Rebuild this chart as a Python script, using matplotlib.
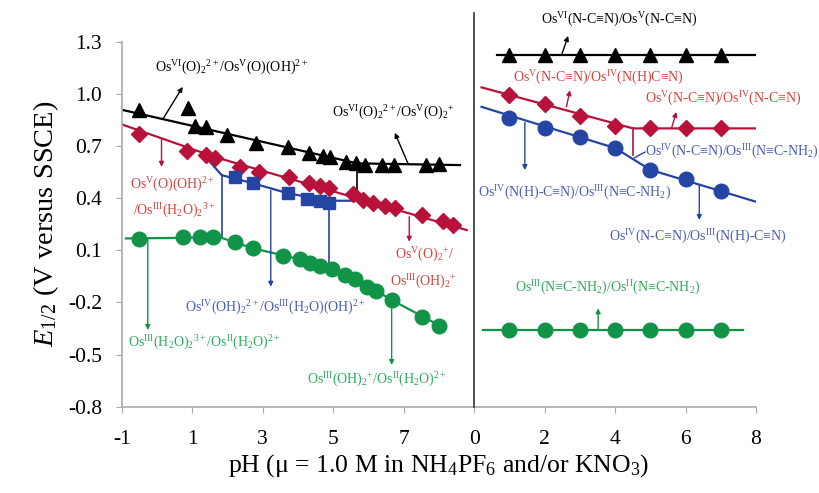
import matplotlib
matplotlib.use("Agg")
import matplotlib.pyplot as plt

plt.rcParams['font.family'] = ['Liberation Serif', 'DejaVu Serif']
plt.rcParams['mathtext.fontset'] = 'custom'
plt.rcParams['mathtext.rm'] = 'Liberation Serif'
plt.rcParams['mathtext.it'] = 'Liberation Serif:italic'

# --- left panel: Os(O)2 couples vs pH ---
blk_x = [-0.50, 0.89, 1.08, 1.39, 1.98, 2.81, 3.73, 4.32, 4.70, 4.91, 5.36, 5.64, 5.90, 6.38, 6.73, 7.63, 8.01]
blk_y = [0.906, 0.916, 0.814, 0.807, 0.762, 0.715, 0.695, 0.657, 0.642, 0.638, 0.609, 0.600, 0.590, 0.590, 0.590, 0.590, 0.596]
blk_line_x = [-1.08, 5.68, 8.60]
blk_line_y = [0.912, 0.600, 0.590]

red_x = [-0.50, 0.86, 1.39, 1.65, 2.36, 2.90, 3.76, 4.32, 4.63, 4.89, 5.55, 5.85, 6.14, 6.47, 6.75, 7.51, 8.12, 8.39]
red_y = [0.768, 0.670, 0.647, 0.628, 0.580, 0.551, 0.523, 0.485, 0.471, 0.460, 0.421, 0.389, 0.371, 0.357, 0.343, 0.302, 0.271, 0.245]
red_line_x = [-1.08, 1.65, 8.79]
red_line_y = [0.830, 0.636, 0.216]

sq_x = [2.21, 2.73, 3.73, 4.25, 4.63, 4.89]
sq_y = [0.523, 0.485, 0.427, 0.393, 0.383, 0.370]
sq_line_x = [1.39, 1.84, 2.73, 3.73, 4.91, 5.71]
sq_line_y = [0.634, 0.532, 0.485, 0.427, 0.385, 0.385]

grn_x = [-0.50, 0.75, 1.22, 1.60, 2.21, 2.73, 3.57, 4.06, 4.34, 4.63, 4.96, 5.33, 5.62, 5.95, 6.23, 6.66, 7.51, 8.01]
grn_y = [0.163, 0.178, 0.174, 0.174, 0.149, 0.111, 0.067, 0.048, 0.028, 0.009, -0.010, -0.043, -0.067, -0.113, -0.133, -0.186, -0.283, -0.336]
grn_line_x = [-0.88, 1.79, 2.73, 4.06, 4.96, 5.95, 6.66, 8.17]
grn_line_y = [0.168, 0.174, 0.111, 0.048, -0.010, -0.100, -0.186, -0.349]

# --- right panel: Os(N-C≡N) couples, pH shifted by 9 on the shared axis ---
shift = 9
r_ph = [1, 2, 3, 4, 5, 6, 7]
r_blk_y = [1.222] * 7
r_red_y = [0.992, 0.941, 0.872, 0.814, 0.801, 0.801, 0.801]
r_blu_y = [0.858, 0.804, 0.753, 0.686, 0.561, 0.508, 0.442]
r_grn_y = [-0.359] * 7
r_blk_line = ([0.64, 8.0], [1.222, 1.222])
r_red_line = ([0.21, 4.51, 8.0], [1.037, 0.801, 0.801])
r_blu_line = ([0.21, 4.0, 5.0, 8.0], [0.925, 0.688, 0.563, 0.379])
r_grn_line = ([0.24, 7.63], [-0.359, -0.359])

xticks = [-1, 1, 3, 5, 7, 9, 11, 13, 15, 17]
xticklabels = ['-1', '1', '3', '5', '7', '0', '2', '4', '6', '8']
yticks = [1.3, 1.0, 0.7, 0.4, 0.1, -0.2, -0.5, -0.8]

c_blk = 'black'
c_red = '#b8123a'
c_red_t = '#d8403c'
c_blu = '#2545a5'
c_blu_t = '#4a5cb5'
c_grn = '#119448'
c_grn_t = '#2aaa5a'

fig = plt.figure(figsize=(8.19, 4.93), dpi=100)
ax = fig.add_axes([0.1486, 0.175, 0.7745, 0.7405])

lw = 1.6
# lines
ax.plot(blk_line_x, blk_line_y, color=c_blk, lw=lw, zorder=2)
ax.plot(red_line_x, red_line_y, color=c_red, lw=lw, zorder=2)
ax.plot(sq_line_x, sq_line_y, color=c_blu, lw=lw, zorder=2)
ax.plot(grn_line_x, grn_line_y, color=c_grn, lw=lw, zorder=2)
ax.plot([1.84, 1.84], [0.532, 0.174], color=c_blu, lw=1.2, zorder=1)
ax.plot([4.89, 4.89], [0.370, 0.009], color=c_blu, lw=1.2, zorder=1)
ax.plot([5.68, 5.68], [0.600, 0.385], color=c_blk, lw=1.2, zorder=1)

for (lx, ly), col in [(r_blk_line, c_blk), (r_red_line, c_red), (r_blu_line, c_blu), (r_grn_line, c_grn)]:
    ax.plot([v + shift for v in lx], ly, color=col, lw=lw, zorder=2)
ax.plot([4.51 + shift] * 2, [0.801, 0.647], color=c_red, lw=1.2, zorder=1)

# markers
ms = 10.5
ax.plot(blk_x, blk_y, '^', color=c_blk, ms=ms, ls='none', zorder=3)
ax.plot(red_x, red_y, 'D', color=c_red, ms=8.5, ls='none', zorder=3)
ax.plot(sq_x, sq_y, 's', color=c_blu, ms=9, ls='none', zorder=3)
ax.plot(grn_x, grn_y, 'o', color=c_grn, ms=ms, ls='none', zorder=3)
rx = [v + shift for v in r_ph]
ax.plot(rx, r_blk_y, '^', color=c_blk, ms=ms, ls='none', zorder=3)
ax.plot(rx, r_red_y, 'D', color=c_red, ms=8.5, ls='none', zorder=3)
ax.plot(rx, r_blu_y, 'o', color=c_blu, ms=ms, ls='none', zorder=3)
ax.plot(rx, r_grn_y, 'o', color=c_grn, ms=ms, ls='none', zorder=3)

# pointer arrows (tail, head, colour)
arrows = [
    ((0.18, 0.858), (0.73, 1.040), c_blk),
    ((7.13, 0.596), (6.75, 0.776), c_blk),
    ((0.13, 0.744), (0.13, 0.580), c_red),
    ((7.16, 0.293), (7.16, 0.149), c_red),
    ((3.23, 0.445), (3.23, -0.110), c_blu),
    ((-0.26, 0.168), (-0.26, -0.359), c_grn),
    ((6.66, -0.186), (6.66, -0.560), c_grn),
    ((2.48 + shift, 1.222), (2.67 + shift, 1.333), c_blk),
    ((2.62 + shift, 0.925), (2.72 + shift, 1.021), c_red),
    ((5.60 + shift, 0.801), (5.74 + shift, 0.896), c_red),
    ((1.44 + shift, 0.835), (1.44 + shift, 0.561), c_blu),
    ((6.39 + shift, 0.475), (6.39 + shift, 0.274), c_blu),
    ((3.52 + shift, -0.359), (3.52 + shift, -0.234), c_grn),
]
for tail, head, col in arrows:
    ax.annotate('', xy=head, xytext=tail, annotation_clip=False,
                arrowprops=dict(arrowstyle='-|>', color=col, lw=1.0,
                                mutation_scale=7, shrinkA=0, shrinkB=0))
ax.plot([4.55 + shift, 4.85 + shift], [0.632, 0.665], color=c_blu, lw=1.0)

# labels
fs = 10
labels = [
    (-0.05, 1.148, r'Os$^{\rm VI}$(O)$_2$$^{2+}$/Os$^{\rm V}$(O)(OH)$^{2+}$', c_blk),
    (4.97, 0.889, r'Os$^{\rm VI}$(O)$_2$$^{2+}$/Os$^{\rm V}$(O)$_2$$^{+}$', c_blk),
    (-0.76, 0.475, r'Os$^{\rm V}$(O)(OH)$^{2+}$', c_red_t),
    (-0.68, 0.325, r'/Os$^{\rm III}$(H$_2$O)$_2$$^{3+}$', c_red_t),
    (6.75, 0.072, r'Os$^{\rm V}$(O)$_2$$^{+}$/', c_red_t),
    (6.61, -0.083, r'Os$^{\rm III}$(OH)$_2$$^{+}$', c_red_t),
    (0.80, -0.233, r'Os$^{\rm IV}$(OH)$_2$$^{2+}$/Os$^{\rm III}$(H$_2$O)(OH)$^{2+}$', c_blu_t),
    (-0.82, -0.434, r'Os$^{\rm III}$(H$_2$O)$_2$$^{3+}$/Os$^{\rm II}$(H$_2$O)$^{2+}$', c_grn_t),
    (4.26, -0.647, r'Os$^{\rm III}$(OH)$_2$$^{+}$/Os$^{\rm II}$(H$_2$O)$^{2+}$', c_grn_t),
    (10.91, 1.424, r'Os$^{\rm VI}$(N-C≡N)/Os$^{\rm V}$(N-C≡N)', c_blk),
    (10.10, 1.090, r'Os$^{\rm V}$(N-C≡N)/Os$^{\rm IV}$(N(H)C≡N)', c_red_t),
    (13.84, 0.969, r'Os$^{\rm V}$(N-C≡N)/Os$^{\rm IV}$(N-C≡N)', c_red_t),
    (13.84, 0.665, r'Os$^{\rm IV}$(N-C≡N)/Os$^{\rm III}$(N≡C-NH$_2$)', c_blu_t),
    (9.11, 0.429, r'Os$^{\rm IV}$(N(H)-C≡N)/Os$^{\rm III}$(N≡C-NH$_2$)', c_blu_t),
    (12.82, 0.176, r'Os$^{\rm IV}$(N-C≡N)/Os$^{\rm III}$(N(H)-C≡N)', c_blu_t),
    (10.16, -0.117, r'Os$^{\rm III}$(N≡C-NH$_2$)/Os$^{\rm II}$(N≡C-NH$_2$)', c_grn_t),
]
for x, y, s, col in labels:
    ax.text(x, y, s, color=col, fontsize=fs, ha='left', va='center', clip_on=False)

# divider between the two pH scales
ax.plot([shift, shift], [-0.8, 1.464], color='#333333', lw=1.2, clip_on=False, zorder=4)

ax.set_xlim(-1, 17)
ax.set_ylim(-0.8, 1.3)
ax.set_xticks(xticks)
ax.set_xticklabels(xticklabels)
ax.set_yticks(yticks)
ax.set_yticklabels(['%.1f' % v for v in yticks])
ax.tick_params(direction='out', length=4, color='#aaaaaa', labelsize=15.5, pad=10)
ax.tick_params(axis='x', pad=13)
for side in ['top', 'right']:
    ax.spines[side].set_visible(False)
for side in ['left', 'bottom']:
    ax.spines[side].set_color('#aaaaaa')
    ax.spines[side].set_linewidth(1.2)

ax.set_xlabel(r'pH (μ = 1.0 M in NH$_4$PF$_6$ and/or KNO$_3$)', fontsize=18.5, labelpad=2)
ax.set_ylabel(r'$E_{1/2}$ (V versus SSCE)', fontsize=20.5, labelpad=5)

fig.savefig('out.png', dpi=100)
